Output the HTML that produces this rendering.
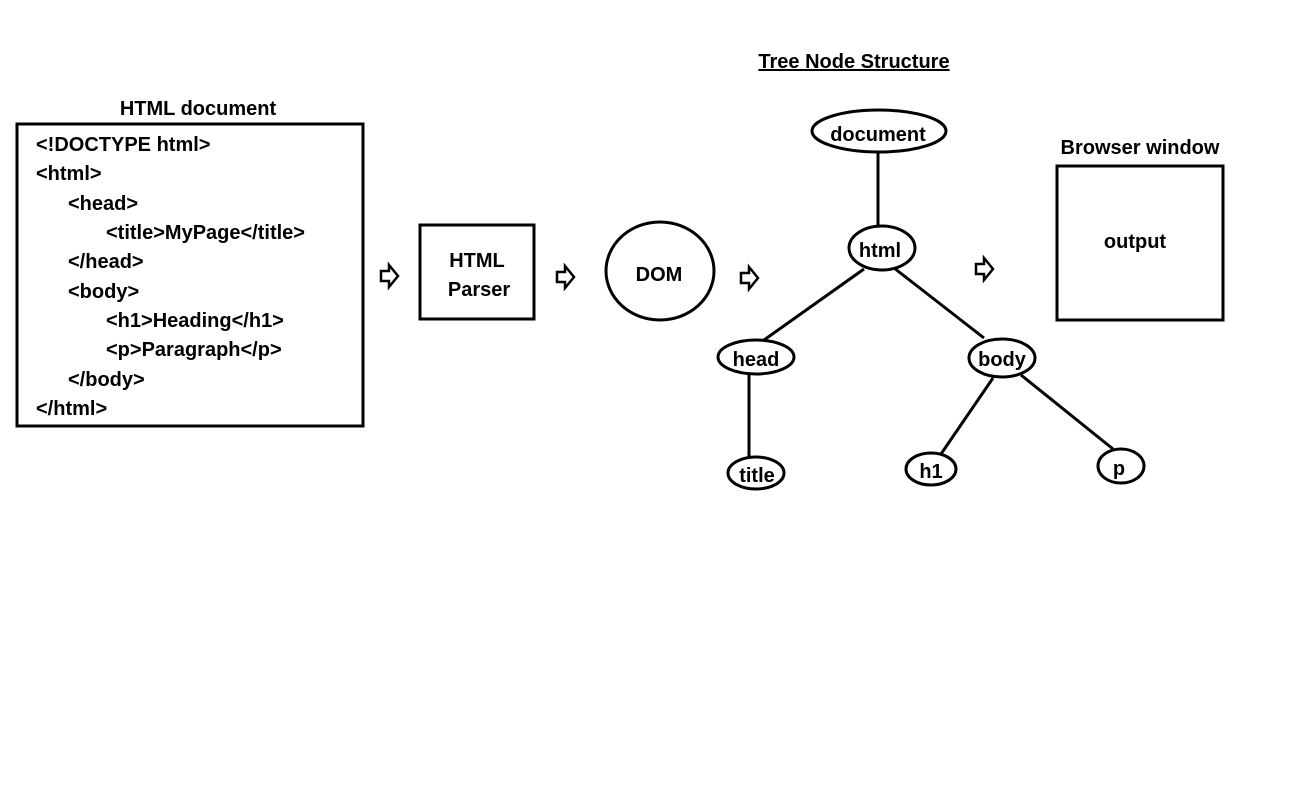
<!DOCTYPE html>
<html><head><style>
body{margin:0;background:#fff;}
svg text{font-family:"Liberation Sans",sans-serif;font-weight:bold;font-size:20px;fill:#000;}
</style></head><body>
<svg width="1297" height="797" xmlns="http://www.w3.org/2000/svg">
<g fill="none" stroke="#000" stroke-width="3">
<rect x="17" y="124" width="346" height="302"/>
<rect x="420" y="225" width="114" height="94"/>
<ellipse cx="660" cy="271" rx="54" ry="49"/>
<rect x="1057" y="166" width="166" height="154"/>
<line x1="878" y1="152" x2="878" y2="226"/>
<line x1="864" y1="269" x2="764" y2="340"/>
<line x1="894" y1="268" x2="984" y2="338"/>
<line x1="749" y1="374" x2="749" y2="458"/>
<line x1="993" y1="378" x2="941" y2="454"/>
<line x1="1021" y1="375" x2="1113" y2="449"/>
<ellipse cx="879" cy="131" rx="67" ry="21" fill="#fff"/>
<ellipse cx="882" cy="248" rx="33" ry="22" fill="#fff"/>
<ellipse cx="756" cy="357" rx="38" ry="17" fill="#fff"/>
<ellipse cx="1002" cy="358" rx="33" ry="19" fill="#fff"/>
<ellipse cx="756" cy="473" rx="28" ry="16" fill="#fff"/>
<ellipse cx="931" cy="469" rx="25" ry="16" fill="#fff"/>
<ellipse cx="1121" cy="466" rx="23" ry="17" fill="#fff"/>
</g>
<g fill="none" stroke="#000" stroke-width="2.5" stroke-linejoin="miter">
<path d="M381 271 h8 v-6 l9 11 l-9 11 v-6 h-8 z"/>
<path d="M557 272 h8 v-6 l9 11 l-9 11 v-6 h-8 z"/>
<path d="M741 273 h8 v-6 l9 11 l-9 11 v-6 h-8 z"/>
<path d="M976 264 h8 v-6 l9 11 l-9 11 v-6 h-8 z"/>
</g>
<text x="198" y="115" text-anchor="middle">HTML document</text>
<text x="854" y="68" text-anchor="middle" text-decoration="underline">Tree Node Structure</text>
<text x="1140" y="154" text-anchor="middle">Browser window</text>
<text x="1135" y="248" text-anchor="middle">output</text>
<text x="477" y="267" text-anchor="middle">HTML</text>
<text x="479" y="296" text-anchor="middle">Parser</text>
<text x="659" y="281" text-anchor="middle">DOM</text>
<g text-anchor="middle">
<text x="878" y="141">document</text>
<text x="880" y="257">html</text>
<text x="756" y="366">head</text>
<text x="1002" y="366">body</text>
<text x="757" y="482">title</text>
<text x="931" y="478">h1</text>
<text x="1119" y="475">p</text>
</g>
<text x="36" y="151">&lt;!DOCTYPE html&gt;</text>
<text x="36" y="180">&lt;html&gt;</text>
<text x="68" y="210">&lt;head&gt;</text>
<text x="106" y="239">&lt;title&gt;MyPage&lt;/title&gt;</text>
<text x="68" y="268">&lt;/head&gt;</text>
<text x="68" y="298">&lt;body&gt;</text>
<text x="106" y="327">&lt;h1&gt;Heading&lt;/h1&gt;</text>
<text x="106" y="356">&lt;p&gt;Paragraph&lt;/p&gt;</text>
<text x="68" y="386">&lt;/body&gt;</text>
<text x="36" y="415">&lt;/html&gt;</text>
</svg>
</body></html>
